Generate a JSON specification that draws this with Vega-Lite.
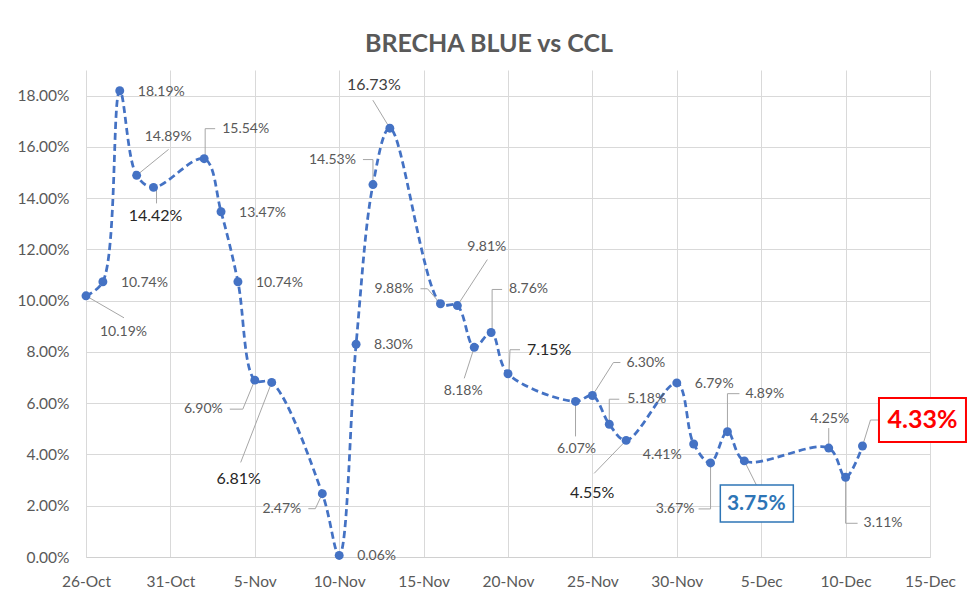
{
  "$schema": "https://vega.github.io/schema/vega-lite/v6.json",
  "width": 844,
  "height": 487,
  "autosize": "none",
  "padding": {"left": 86, "top": 70, "right": 50, "bottom": 53},
  "background": "white",
  "config": {
    "view": {"stroke": null},
    "font": "Lato",
    "text": {"font": "Lato", "fontSize": 14, "fill": "#595959"}
  },
  "title": {
    "text": "BRECHA BLUE vs CCL",
    "font": "Lato",
    "fontSize": 25,
    "fontWeight": "bold",
    "color": "#595959",
    "anchor": "middle",
    "frame": "group",
    "baseline": "alphabetic",
    "offset": -7,
    "dx": -19
  },
  "data": {
    "values": [
      {"date": "2020-10-26", "value": 0.1019},
      {"date": "2020-10-27", "value": 0.1074},
      {"date": "2020-10-28", "value": 0.1819},
      {"date": "2020-10-29", "value": 0.1489},
      {"date": "2020-10-30", "value": 0.1442},
      {"date": "2020-11-02", "value": 0.1554},
      {"date": "2020-11-03", "value": 0.1347},
      {"date": "2020-11-04", "value": 0.1074},
      {"date": "2020-11-05", "value": 0.069},
      {"date": "2020-11-06", "value": 0.0681},
      {"date": "2020-11-09", "value": 0.0247},
      {"date": "2020-11-10", "value": 0.0006},
      {"date": "2020-11-11", "value": 0.083},
      {"date": "2020-11-12", "value": 0.1453},
      {"date": "2020-11-13", "value": 0.1673},
      {"date": "2020-11-16", "value": 0.0988},
      {"date": "2020-11-17", "value": 0.0981},
      {"date": "2020-11-18", "value": 0.0818},
      {"date": "2020-11-19", "value": 0.0876},
      {"date": "2020-11-20", "value": 0.0715},
      {"date": "2020-11-24", "value": 0.0607},
      {"date": "2020-11-25", "value": 0.063},
      {"date": "2020-11-26", "value": 0.0518},
      {"date": "2020-11-27", "value": 0.0455},
      {"date": "2020-11-30", "value": 0.0679},
      {"date": "2020-12-01", "value": 0.0441},
      {"date": "2020-12-02", "value": 0.0367},
      {"date": "2020-12-03", "value": 0.0489},
      {"date": "2020-12-04", "value": 0.0375},
      {"date": "2020-12-09", "value": 0.0425},
      {"date": "2020-12-10", "value": 0.0311},
      {"date": "2020-12-11", "value": 0.0433}
    ]
  },
  "encoding": {
    "x": {
      "field": "date",
      "type": "temporal",
      "scale": {
        "type": "utc",
        "domain": [
          {"year": 2020, "month": 10, "date": 26, "utc": true},
          {"year": 2020, "month": 12, "date": 15, "utc": true}
        ]
      },
      "axis": {
        "title": null,
        "values": [
          {"year": 2020, "month": 10, "date": 26, "utc": true},
          {"year": 2020, "month": 10, "date": 31, "utc": true},
          {"year": 2020, "month": 11, "date": 5, "utc": true},
          {"year": 2020, "month": 11, "date": 10, "utc": true},
          {"year": 2020, "month": 11, "date": 15, "utc": true},
          {"year": 2020, "month": 11, "date": 20, "utc": true},
          {"year": 2020, "month": 11, "date": 25, "utc": true},
          {"year": 2020, "month": 11, "date": 30, "utc": true},
          {"year": 2020, "month": 12, "date": 5, "utc": true},
          {"year": 2020, "month": 12, "date": 10, "utc": true},
          {"year": 2020, "month": 12, "date": 15, "utc": true}
        ],
        "labelExpr": "utcFormat(datum.value, '%-d-%b')",
        "labelFont": "Lato",
        "labelFontSize": 15.5,
        "labelColor": "#595959",
        "labelPadding": 17,
        "labelFlush": false,
        "labelOverlap": false,
        "ticks": false,
        "domain": true,
        "domainColor": "#D0D0D0",
        "domainWidth": 1,
        "grid": true,
        "gridColor": "#D9D9D9",
        "gridWidth": 1
      }
    },
    "y": {
      "field": "value",
      "type": "quantitative",
      "scale": {"domain": [0, 0.19], "nice": false},
      "axis": {
        "title": null,
        "values": [0, 0.02, 0.04, 0.06, 0.08, 0.1, 0.12, 0.14, 0.16, 0.18],
        "format": ".2%",
        "labelFont": "Lato",
        "labelFontSize": 15.5,
        "labelColor": "#595959",
        "labelPadding": 17,
        "ticks": false,
        "domain": false,
        "grid": true,
        "gridColor": "#D9D9D9",
        "gridWidth": 1
      }
    }
  },
  "layer": [
    {
      "mark": {"type": "line", "interpolate": "catmull-rom", "strokeDash": [7, 4], "strokeWidth": 2.75, "color": "#4472C4"}
    },
    {
      "transform": [{"filter": {"field": "value", "equal": 0.1019}}],
      "layer": [
        {"mark": {"type": "rule", "color": "#A6A6A6", "x2Offset": 38, "y2Offset": 22}, "encoding": {"x2": {"field": "date"}, "y2": {"field": "value"}}}
      ]
    },
    {
      "transform": [{"filter": {"field": "value", "equal": 0.1489}}],
      "layer": [
        {"mark": {"type": "rule", "color": "#A6A6A6", "x2Offset": 32, "y2Offset": -26}, "encoding": {"x2": {"field": "date"}, "y2": {"field": "value"}}}
      ]
    },
    {
      "transform": [{"filter": {"field": "value", "equal": 0.1442}}],
      "layer": [
        {"mark": {"type": "rule", "color": "#A6A6A6", "xOffset": 3, "x2Offset": 3, "y2Offset": 16}, "encoding": {"x2": {"field": "date"}, "y2": {"field": "value"}}}
      ]
    },
    {
      "transform": [{"filter": {"field": "value", "equal": 0.1554}}],
      "layer": [
        {"mark": {"type": "rule", "color": "#A6A6A6", "xOffset": 1, "x2Offset": 1, "y2Offset": -30}, "encoding": {"x2": {"field": "date"}, "y2": {"field": "value"}}},
        {"mark": {"type": "rule", "color": "#A6A6A6", "xOffset": 1, "yOffset": -30, "x2Offset": 11, "y2Offset": -30}, "encoding": {"x2": {"field": "date"}, "y2": {"field": "value"}}}
      ]
    },
    {
      "transform": [{"filter": {"field": "value", "equal": 0.069}}],
      "layer": [
        {"mark": {"type": "rule", "color": "#A6A6A6", "x2Offset": -12, "y2Offset": 29}, "encoding": {"x2": {"field": "date"}, "y2": {"field": "value"}}},
        {"mark": {"type": "rule", "color": "#A6A6A6", "xOffset": -12, "yOffset": 29, "x2Offset": -25, "y2Offset": 29}, "encoding": {"x2": {"field": "date"}, "y2": {"field": "value"}}}
      ]
    },
    {
      "transform": [{"filter": {"field": "value", "equal": 0.0681}}],
      "layer": [
        {"mark": {"type": "rule", "color": "#A6A6A6", "x2Offset": -31, "y2Offset": 80}, "encoding": {"x2": {"field": "date"}, "y2": {"field": "value"}}}
      ]
    },
    {
      "transform": [{"filter": {"field": "value", "equal": 0.0247}}],
      "layer": [
        {"mark": {"type": "rule", "color": "#A6A6A6", "x2Offset": -7, "y2Offset": 15}, "encoding": {"x2": {"field": "date"}, "y2": {"field": "value"}}},
        {"mark": {"type": "rule", "color": "#A6A6A6", "xOffset": -7, "yOffset": 15, "x2Offset": -14, "y2Offset": 15}, "encoding": {"x2": {"field": "date"}, "y2": {"field": "value"}}}
      ]
    },
    {
      "transform": [{"filter": {"field": "value", "equal": 0.1453}}],
      "layer": [
        {"mark": {"type": "rule", "color": "#A6A6A6", "y2Offset": -25}, "encoding": {"x2": {"field": "date"}, "y2": {"field": "value"}}},
        {"mark": {"type": "rule", "color": "#A6A6A6", "yOffset": -25, "x2Offset": -10, "y2Offset": -25}, "encoding": {"x2": {"field": "date"}, "y2": {"field": "value"}}}
      ]
    },
    {
      "transform": [{"filter": {"field": "value", "equal": 0.1673}}],
      "layer": [
        {"mark": {"type": "rule", "color": "#A6A6A6", "x2Offset": -17, "y2Offset": -28}, "encoding": {"x2": {"field": "date"}, "y2": {"field": "value"}}}
      ]
    },
    {
      "transform": [{"filter": {"field": "value", "equal": 0.0988}}],
      "layer": [
        {"mark": {"type": "rule", "color": "#A6A6A6", "x2Offset": -13, "y2Offset": -15}, "encoding": {"x2": {"field": "date"}, "y2": {"field": "value"}}},
        {"mark": {"type": "rule", "color": "#A6A6A6", "xOffset": -13, "yOffset": -15, "x2Offset": -20, "y2Offset": -15}, "encoding": {"x2": {"field": "date"}, "y2": {"field": "value"}}}
      ]
    },
    {
      "transform": [{"filter": {"field": "value", "equal": 0.0981}}],
      "layer": [
        {"mark": {"type": "rule", "color": "#A6A6A6", "x2Offset": 30, "y2Offset": -46}, "encoding": {"x2": {"field": "date"}, "y2": {"field": "value"}}}
      ]
    },
    {
      "transform": [{"filter": {"field": "value", "equal": 0.0818}}],
      "layer": [
        {"mark": {"type": "rule", "color": "#A6A6A6", "x2Offset": -10, "y2Offset": 31}, "encoding": {"x2": {"field": "date"}, "y2": {"field": "value"}}}
      ]
    },
    {
      "transform": [{"filter": {"field": "value", "equal": 0.0876}}],
      "layer": [
        {"mark": {"type": "rule", "color": "#A6A6A6", "xOffset": 1, "x2Offset": 1, "y2Offset": -43}, "encoding": {"x2": {"field": "date"}, "y2": {"field": "value"}}},
        {"mark": {"type": "rule", "color": "#A6A6A6", "xOffset": 1, "yOffset": -43, "x2Offset": 11, "y2Offset": -43}, "encoding": {"x2": {"field": "date"}, "y2": {"field": "value"}}}
      ]
    },
    {
      "transform": [{"filter": {"field": "value", "equal": 0.0715}}],
      "layer": [
        {"mark": {"type": "rule", "color": "#A6A6A6", "xOffset": 1, "x2Offset": 2, "y2Offset": -24}, "encoding": {"x2": {"field": "date"}, "y2": {"field": "value"}}},
        {"mark": {"type": "rule", "color": "#A6A6A6", "xOffset": 2, "yOffset": -24, "x2Offset": 12, "y2Offset": -24}, "encoding": {"x2": {"field": "date"}, "y2": {"field": "value"}}}
      ]
    },
    {
      "transform": [{"filter": {"field": "value", "equal": 0.0607}}],
      "layer": [
        {"mark": {"type": "rule", "color": "#A6A6A6", "y2Offset": 35}, "encoding": {"x2": {"field": "date"}, "y2": {"field": "value"}}}
      ]
    },
    {
      "transform": [{"filter": {"field": "value", "equal": 0.063}}],
      "layer": [
        {"mark": {"type": "rule", "color": "#A6A6A6", "x2Offset": 21, "y2Offset": -33}, "encoding": {"x2": {"field": "date"}, "y2": {"field": "value"}}},
        {"mark": {"type": "rule", "color": "#A6A6A6", "xOffset": 21, "yOffset": -33, "x2Offset": 28, "y2Offset": -33}, "encoding": {"x2": {"field": "date"}, "y2": {"field": "value"}}}
      ]
    },
    {
      "transform": [{"filter": {"field": "value", "equal": 0.0518}}],
      "layer": [
        {"mark": {"type": "rule", "color": "#A6A6A6", "y2Offset": -25}, "encoding": {"x2": {"field": "date"}, "y2": {"field": "value"}}},
        {"mark": {"type": "rule", "color": "#A6A6A6", "yOffset": -25, "x2Offset": 10, "y2Offset": -25}, "encoding": {"x2": {"field": "date"}, "y2": {"field": "value"}}}
      ]
    },
    {
      "transform": [{"filter": {"field": "value", "equal": 0.0455}}],
      "layer": [
        {"mark": {"type": "rule", "color": "#A6A6A6", "x2Offset": -32, "y2Offset": 33}, "encoding": {"x2": {"field": "date"}, "y2": {"field": "value"}}}
      ]
    },
    {
      "transform": [{"filter": {"field": "value", "equal": 0.0367}}],
      "layer": [
        {"mark": {"type": "rule", "color": "#A6A6A6", "y2Offset": 46}, "encoding": {"x2": {"field": "date"}, "y2": {"field": "value"}}},
        {"mark": {"type": "rule", "color": "#A6A6A6", "yOffset": 46, "x2Offset": -12, "y2Offset": 46}, "encoding": {"x2": {"field": "date"}, "y2": {"field": "value"}}}
      ]
    },
    {
      "transform": [{"filter": {"field": "value", "equal": 0.0489}}],
      "layer": [
        {"mark": {"type": "rule", "color": "#A6A6A6", "y2Offset": -38}, "encoding": {"x2": {"field": "date"}, "y2": {"field": "value"}}},
        {"mark": {"type": "rule", "color": "#A6A6A6", "yOffset": -38, "x2Offset": 12, "y2Offset": -38}, "encoding": {"x2": {"field": "date"}, "y2": {"field": "value"}}}
      ]
    },
    {
      "transform": [{"filter": {"field": "value", "equal": 0.0375}}],
      "layer": [
        {"mark": {"type": "rule", "color": "#A6A6A6", "x2Offset": 12, "y2Offset": 24}, "encoding": {"x2": {"field": "date"}, "y2": {"field": "value"}}}
      ]
    },
    {
      "transform": [{"filter": {"field": "value", "equal": 0.0425}}],
      "layer": [
        {"mark": {"type": "rule", "color": "#A6A6A6", "y2Offset": -20}, "encoding": {"x2": {"field": "date"}, "y2": {"field": "value"}}}
      ]
    },
    {
      "transform": [{"filter": {"field": "value", "equal": 0.0311}}],
      "layer": [
        {"mark": {"type": "rule", "color": "#A6A6A6", "y2Offset": 46}, "encoding": {"x2": {"field": "date"}, "y2": {"field": "value"}}},
        {"mark": {"type": "rule", "color": "#A6A6A6", "yOffset": 46, "x2Offset": 12, "y2Offset": 46}, "encoding": {"x2": {"field": "date"}, "y2": {"field": "value"}}}
      ]
    },
    {
      "transform": [{"filter": {"field": "value", "equal": 0.0433}}],
      "layer": [
        {"mark": {"type": "rule", "color": "#A6A6A6", "x2Offset": 8, "y2Offset": -26}, "encoding": {"x2": {"field": "date"}, "y2": {"field": "value"}}},
        {"mark": {"type": "rule", "color": "#A6A6A6", "xOffset": 8, "yOffset": -26, "x2Offset": 16, "y2Offset": -26}, "encoding": {"x2": {"field": "date"}, "y2": {"field": "value"}}}
      ]
    },
    {
      "mark": {"type": "point", "filled": true, "size": 80, "color": "#4472C4", "opacity": 1}
    },
    {
      "transform": [{"filter": {"field": "value", "equal": 0.0375}}],
      "mark": {"type": "rect", "fill": "white", "stroke": "#2E75B6", "strokeWidth": 1.5, "xOffset": -24, "x2Offset": 49, "yOffset": 24, "y2Offset": 61},
      "encoding": {"x2": {"field": "date"}, "y2": {"field": "value"}}
    },
    {
      "transform": [{"filter": {"field": "value", "equal": 0.0433}}],
      "mark": {"type": "rect", "fill": "white", "stroke": "#FF0000", "strokeWidth": 2, "xOffset": 16.5, "x2Offset": 103.5, "yOffset": -48, "y2Offset": -4},
      "encoding": {"x2": {"field": "date"}, "y2": {"field": "value"}}
    },
    {
      "transform": [{"filter": {"field": "value", "oneOf": [0.1074, 0.1819, 0.1347, 0.0006, 0.083, 0.0679]}}],
      "mark": {"type": "text", "align": "left", "baseline": "middle", "dx": 18, "dy": 1},
      "encoding": {"text": {"field": "value", "format": ".2%"}}
    },
    {"transform": [{"filter": {"field": "value", "equal": 0.1019}}], "mark": {"type": "text", "align": "left", "baseline": "middle", "dx": 14, "dy": 36}, "encoding": {"text": {"field": "value", "format": ".2%"}}},
    {"transform": [{"filter": {"field": "value", "equal": 0.1489}}], "mark": {"type": "text", "align": "left", "baseline": "middle", "dx": 8, "dy": -38}, "encoding": {"text": {"field": "value", "format": ".2%"}}},
    {"transform": [{"filter": {"field": "value", "equal": 0.1442}}], "mark": {"type": "text", "align": "center", "baseline": "middle", "dx": 2, "dy": 29, "fontSize": 16, "fill": "#262626"}, "encoding": {"text": {"field": "value", "format": ".2%"}}},
    {"transform": [{"filter": {"field": "value", "equal": 0.1554}}], "mark": {"type": "text", "align": "left", "baseline": "middle", "dx": 18, "dy": -30}, "encoding": {"text": {"field": "value", "format": ".2%"}}},
    {"transform": [{"filter": {"field": "value", "equal": 0.069}}], "mark": {"type": "text", "align": "right", "baseline": "middle", "dx": -32, "dy": 29}, "encoding": {"text": {"field": "value", "format": ".2%"}}},
    {"transform": [{"filter": {"field": "value", "equal": 0.0681}}], "mark": {"type": "text", "align": "center", "baseline": "middle", "dx": -33, "dy": 97, "fontSize": 16, "fill": "#262626"}, "encoding": {"text": {"field": "value", "format": ".2%"}}},
    {"transform": [{"filter": {"field": "value", "equal": 0.0247}}], "mark": {"type": "text", "align": "right", "baseline": "middle", "dx": -21, "dy": 15}, "encoding": {"text": {"field": "value", "format": ".2%"}}},
    {"transform": [{"filter": {"field": "value", "equal": 0.1453}}], "mark": {"type": "text", "align": "right", "baseline": "middle", "dx": -17, "dy": -25}, "encoding": {"text": {"field": "value", "format": ".2%"}}},
    {"transform": [{"filter": {"field": "value", "equal": 0.1673}}], "mark": {"type": "text", "align": "center", "baseline": "middle", "dx": -16, "dy": -43, "fontSize": 16, "fill": "#404040"}, "encoding": {"text": {"field": "value", "format": ".2%"}}},
    {"transform": [{"filter": {"field": "value", "equal": 0.0988}}], "mark": {"type": "text", "align": "right", "baseline": "middle", "dx": -27, "dy": -15}, "encoding": {"text": {"field": "value", "format": ".2%"}}},
    {"transform": [{"filter": {"field": "value", "equal": 0.0981}}], "mark": {"type": "text", "align": "left", "baseline": "middle", "dx": 10, "dy": -59}, "encoding": {"text": {"field": "value", "format": ".2%"}}},
    {"transform": [{"filter": {"field": "value", "equal": 0.0818}}], "mark": {"type": "text", "align": "center", "baseline": "middle", "dx": -11, "dy": 44}, "encoding": {"text": {"field": "value", "format": ".2%"}}},
    {"transform": [{"filter": {"field": "value", "equal": 0.0876}}], "mark": {"type": "text", "align": "left", "baseline": "middle", "dx": 18, "dy": -43}, "encoding": {"text": {"field": "value", "format": ".2%"}}},
    {"transform": [{"filter": {"field": "value", "equal": 0.0715}}], "mark": {"type": "text", "align": "left", "baseline": "middle", "dx": 19, "dy": -24, "fontSize": 16, "fill": "#262626"}, "encoding": {"text": {"field": "value", "format": ".2%"}}},
    {"transform": [{"filter": {"field": "value", "equal": 0.0607}}], "mark": {"type": "text", "align": "center", "baseline": "middle", "dx": 1, "dy": 48}, "encoding": {"text": {"field": "value", "format": ".2%"}}},
    {"transform": [{"filter": {"field": "value", "equal": 0.063}}], "mark": {"type": "text", "align": "left", "baseline": "middle", "dx": 34, "dy": -33}, "encoding": {"text": {"field": "value", "format": ".2%"}}},
    {"transform": [{"filter": {"field": "value", "equal": 0.0518}}], "mark": {"type": "text", "align": "left", "baseline": "middle", "dx": 18, "dy": -25}, "encoding": {"text": {"field": "value", "format": ".2%"}}},
    {"transform": [{"filter": {"field": "value", "equal": 0.0455}}], "mark": {"type": "text", "align": "center", "baseline": "middle", "dx": -34, "dy": 53, "fontSize": 16, "fill": "#262626"}, "encoding": {"text": {"field": "value", "format": ".2%"}}},
    {"transform": [{"filter": {"field": "value", "equal": 0.0441}}], "mark": {"type": "text", "align": "right", "baseline": "middle", "dx": -12, "dy": 11}, "encoding": {"text": {"field": "value", "format": ".2%"}}},
    {"transform": [{"filter": {"field": "value", "equal": 0.0367}}], "mark": {"type": "text", "align": "right", "baseline": "middle", "dx": -16, "dy": 46}, "encoding": {"text": {"field": "value", "format": ".2%"}}},
    {"transform": [{"filter": {"field": "value", "equal": 0.0489}}], "mark": {"type": "text", "align": "left", "baseline": "middle", "dx": 18, "dy": -38}, "encoding": {"text": {"field": "value", "format": ".2%"}}},
    {"transform": [{"filter": {"field": "value", "equal": 0.0375}}], "mark": {"type": "text", "align": "center", "baseline": "middle", "dx": 12, "dy": 43, "fontSize": 21, "fontWeight": "bold", "fill": "#2E75B6"}, "encoding": {"text": {"field": "value", "format": ".2%"}}},
    {"transform": [{"filter": {"field": "value", "equal": 0.0425}}], "mark": {"type": "text", "align": "center", "baseline": "middle", "dx": 1, "dy": -29}, "encoding": {"text": {"field": "value", "format": ".2%"}}},
    {"transform": [{"filter": {"field": "value", "equal": 0.0311}}], "mark": {"type": "text", "align": "left", "baseline": "middle", "dx": 18, "dy": 46}, "encoding": {"text": {"field": "value", "format": ".2%"}}},
    {"transform": [{"filter": {"field": "value", "equal": 0.0433}}], "mark": {"type": "text", "align": "center", "baseline": "middle", "dx": 60, "dy": -26, "fontSize": 25, "fontWeight": "bold", "fill": "#FF0000"}, "encoding": {"text": {"field": "value", "format": ".2%"}}}
  ]
}
